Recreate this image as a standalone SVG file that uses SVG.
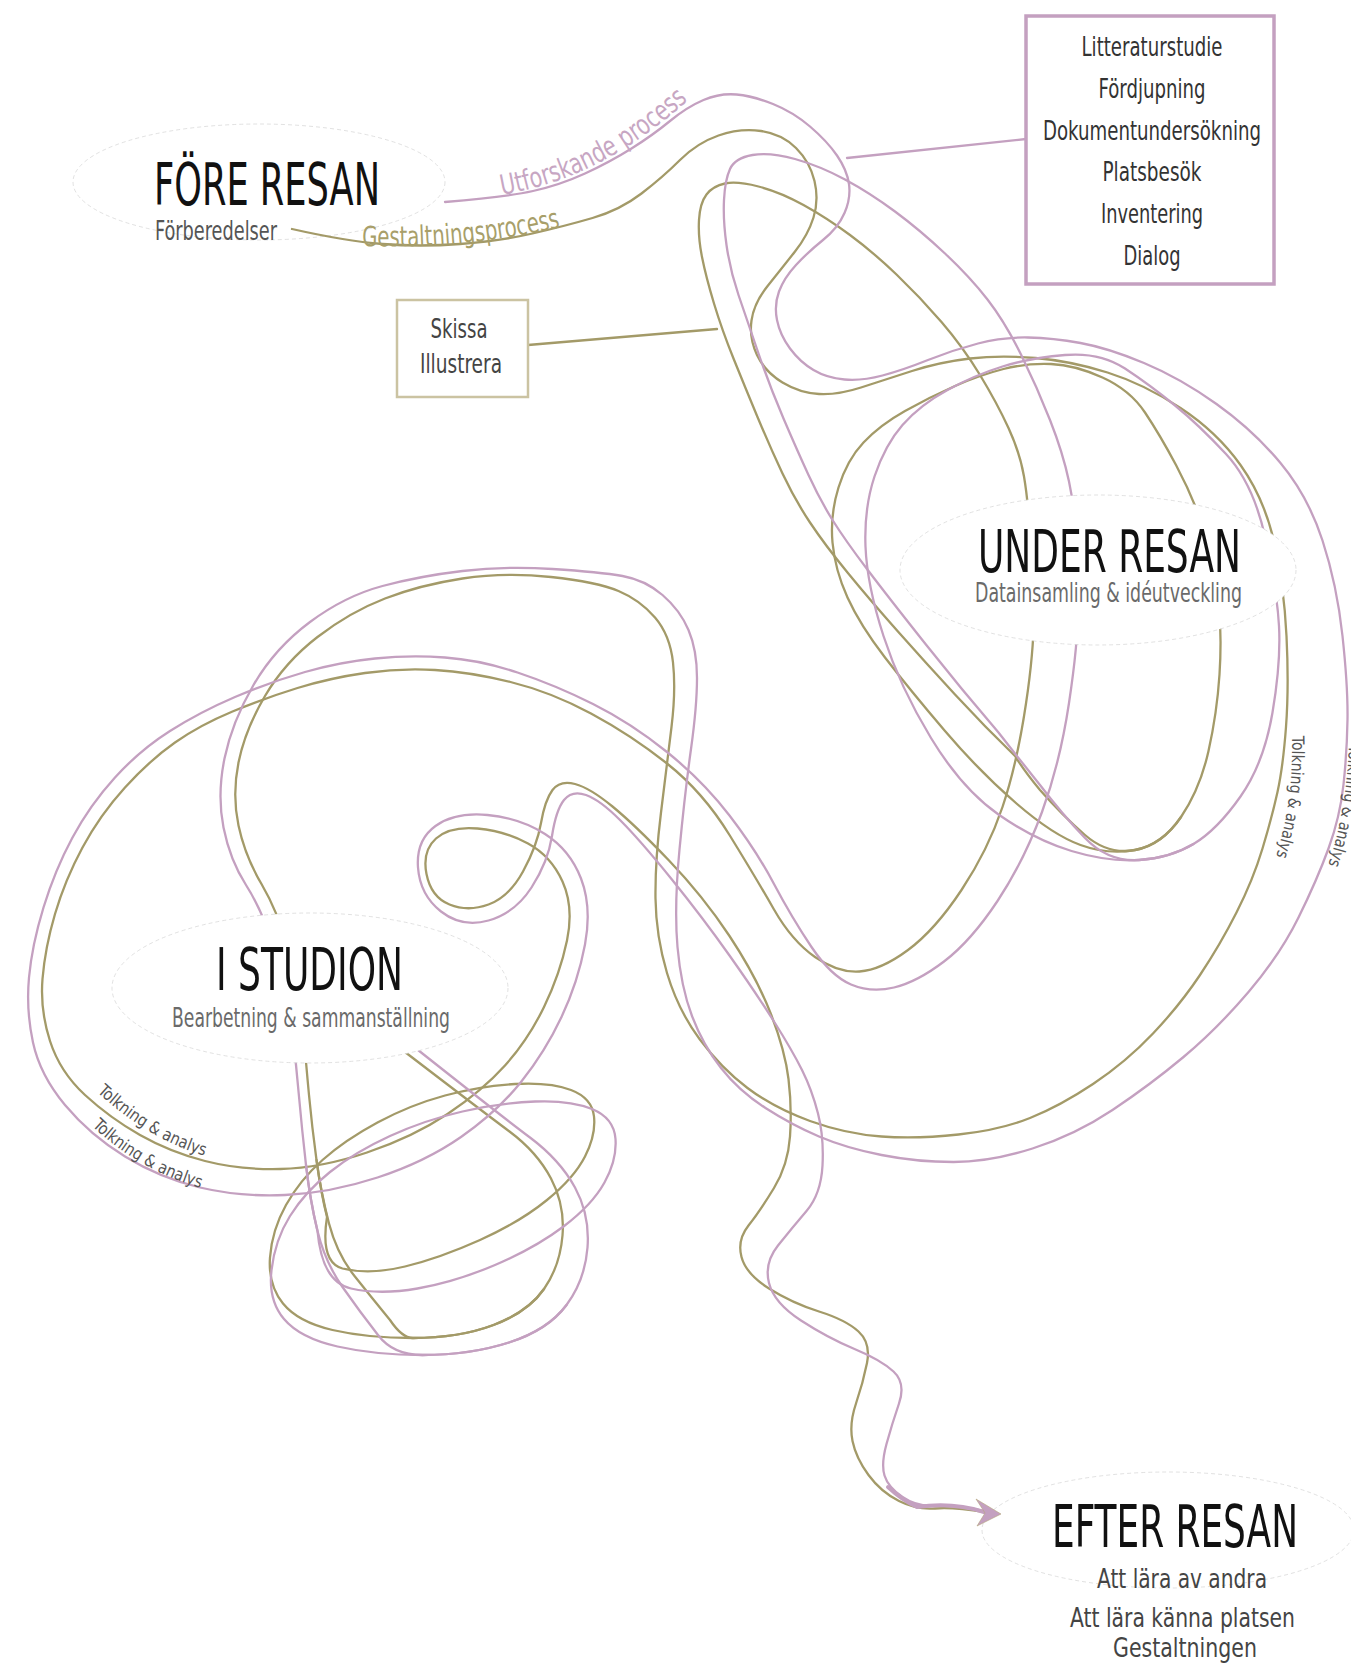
<svg xmlns="http://www.w3.org/2000/svg" width="1351" height="1671" viewBox="0 0 1351 1671">
<style>
.ol{fill:none;stroke:#a39a68;stroke-width:2.3;stroke-linecap:round;stroke-linejoin:round}
.mv{fill:none;stroke:#c4a0c0;stroke-width:2.3;stroke-linecap:round;stroke-linejoin:round}
.oval{fill:#fff;stroke:#d4d4d4;stroke-width:0.7;stroke-dasharray:4 3}
.t{font-family:"Liberation Sans Narrow","DejaVu Sans Condensed","Liberation Sans",sans-serif}
.title{font-size:58px;fill:#111}
.sub{font-size:27px;fill:#6a6a6a}
.box{font-size:27px;fill:#333}
.lab{font-size:17px;fill:#555}
.proc{font-size:28px}
</style>
<defs>
<path id="pUtf" d="M502,195 C575,182 630,152 692,97"/>
<path id="pGes" d="M362,246 C430,248 500,242 565,226"/>
<path id="pTR1" d="M1292,736 C1293,785 1287,822 1275,860"/>
<path id="pTR2" d="M1349,745 C1347,790 1340,830 1328,866"/>
<path id="pTL1" d="M97,1092 C132,1124 172,1150 228,1162"/>
<path id="pTL2" d="M92,1126 C125,1157 165,1180 222,1194"/>
</defs>
<rect width="1351" height="1671" fill="#fff"/>

<g id="node-fore-resan">
<ellipse class="oval" cx="259" cy="182" rx="186" ry="58" style="fill:none"/>
<text class="t title" x="154" y="205" textLength="226" lengthAdjust="spacingAndGlyphs">FÖRE RESAN</text>
<text class="t sub" x="155" y="240" textLength="122" lengthAdjust="spacingAndGlyphs" style="fill:#555">Förberedelser</text>
</g>

<g id="connectors">
<path class="mv" d="M1026,139 L847,158"/>
<path class="ol" d="M528,345 L717,329"/>
<!-- olive main strand -->
<path class="ol" d="M292,229 Q345,241 382.5,244 Q420,247 460,244 Q500,241 532.5,233.5 Q565,226 592.5,218 Q620,210 641.5,193.5 Q663,177 680,160 Q697,143 718.5,135.5 Q740,128 761,131 Q782,134 796,148 Q810,162 814.5,181 Q819,200 813.5,217.5 Q808,235 795,251.5 Q782,268 768,285.5 Q754,303 751.5,320.5 Q749,338 757,355 Q765,372 782.5,382.5 Q800,393 819,394 Q838,395 861,387.5 Q884,380 912,371 Q940,362 970,358.5 Q1000,355 1035.5,358 Q1071,361 1107.5,372.5 Q1144,384 1180.5,408 Q1217,432 1240.5,465 Q1264,498 1274,541.5 Q1284,585 1286.5,636 Q1289,687 1286,727 Q1283,767 1277.5,792 Q1272,817 1262.5,848.5 Q1253,880 1236.5,912.5 Q1220,945 1200,975 Q1180,1005 1153,1033.5 Q1126,1062 1093,1084 Q1060,1106 1030,1118 Q1000,1130 958.5,1134.5 Q917,1139 881.5,1136.5 Q846,1134 810,1121 Q774,1108 747.5,1088 Q721,1068 699.5,1039 Q678,1010 667,973 Q656,936 655.5,898.5 Q655,861 661,812.5 Q667,764 671.5,727 Q676,690 673,662.5 Q670,635 655,617.5 Q640,600 618.5,591 Q597,582 551,577 Q505,572 462.5,578.5 Q420,585 385,598.5 Q350,612 317.5,637 Q285,662 265,696 Q245,730 238.5,762.5 Q232,795 238.5,825.5 Q245,856 261.5,884 Q278,912 289,951 Q300,990 303,1026.5 Q306,1063 309,1095 Q312,1127 316.5,1160 Q321,1193 329,1223.5 Q337,1254 354.5,1276 Q372,1298 390,1320 Q402,1338 413,1338 Q459,1338 493.5,1325 Q528,1312 544,1289"/>
<!-- olive inner loop / outer left loop / tail -->
<path class="ol" d="M1181,817 Q1162,845 1135,850 Q1108,855 1085,835 Q1062,815 1040,790 Q1025,772 1015,756 Q985,727 955,694.5 Q925,662 897.5,631 Q870,600 847.5,572.5 Q825,545 810,522.5 Q795,500 782.5,473.5 Q770,447 757.5,417 Q745,387 733.5,358.5 Q722,330 714,303.5 Q706,277 702,257 Q698,237 699,220 Q700,203 706.5,194.5 Q713,186 725,183.5 Q737,181 758.5,186.5 Q780,192 803.5,205 Q827,218 850,235 Q873,252 896.5,274.5 Q920,297 941.5,322 Q963,347 980,375 Q997,403 1008.5,428 Q1020,453 1024,476.5 Q1028,500 1030,535 Q1032,570 1033.5,606.5 Q1035,643 1026,703.5 Q1017,764 1002.5,807 Q988,850 961.5,890 Q935,930 908,950 Q881,970 859.5,971.5 Q838,973 815,957 Q792,941 774,909.5 Q756,878 729.5,835 Q703,792 667,763.5 Q631,735 591,713.5 Q551,692 510.5,682 Q470,672 435,670 Q400,668 365,673 Q330,678 297.5,688 Q265,698 232.5,711.5 Q200,725 175,742.5 Q150,760 125,787.5 Q100,815 82.5,847.5 Q65,880 55,914 Q45,948 42.5,979 Q40,1010 50,1041 Q60,1072 85,1095 Q110,1118 140,1135 Q170,1152 205,1161 Q240,1170 280.5,1169 Q321,1168 367,1152.5 Q413,1137 447.5,1114 Q482,1091 505,1065.5 Q528,1040 544,1007 Q560,974 567,940.5 Q574,907 562.5,881.5 Q551,856 528,843.5 Q505,831 477.5,828.5 Q450,826 436,838.5 Q422,851 426.5,874 Q431,897 449.5,904.5 Q468,912 488.5,904.5 Q509,897 523,871.5 Q537,846 541,823 Q545,800 552.5,790 Q560,780 575,784 Q590,788 612.5,806.5 Q635,825 669,860.5 Q703,896 729.5,936 Q756,976 770.5,1013 Q785,1050 788.5,1079 Q792,1108 790,1136.5 Q788,1165 774,1188 Q760,1211 748.5,1225.5 Q737,1240 741.5,1257 Q746,1274 769,1288.5 Q792,1303 819,1311.5 Q846,1320 858.5,1331.5 Q871,1343 867,1363 Q863,1383 856,1403.5 Q849,1424 852.5,1441 Q856,1458 868.5,1475 Q881,1492 899,1501 Q917,1510 935,1508.5 Q953,1507 985,1512"/>
<!-- olive ring around UNDER RESAN -->
<path class="ol" d="M1145,412.5 Q1130,390 1102.5,377.5 Q1075,365 1051,364 Q1027,363 1003.5,369 Q980,375 955,386 Q930,397 905,411 Q880,425 863.5,442.5 Q847,460 838.5,487.5 Q830,515 832.5,542.5 Q835,570 847.5,597.5 Q860,625 885,657.5 Q910,690 945,731 Q980,772 1016.5,803.5 Q1053,835 1080.5,845 Q1108,855 1135,850 Q1162,845 1181,817 Q1200,789 1208.5,751 Q1217,713 1219.5,674.5 Q1222,636 1218.5,598 Q1215,560 1203.5,527.5 Q1192,495 1176,465 Q1160,435 1145,412.5 Z"/>
<!-- olive bottom loops -->
<path class="ol" d="M405,1052 Q482,1111 509.5,1131.5 Q537,1152 551,1178.5 Q565,1205 562.5,1235.5 Q560,1266 544,1289 Q528,1312 493.5,1325 Q459,1338 413,1338 Q367,1338 332.5,1330 Q298,1322 283,1303.5 Q268,1285 270,1257.5 Q272,1230 286,1205 Q300,1180 322.5,1160 Q345,1140 377.5,1122.5 Q410,1105 445,1095.5 Q480,1086 515,1084 Q550,1082 571,1090 Q592,1098 594,1116.5 Q596,1135 585,1156.5 Q574,1178 547,1200 Q520,1222 480,1240 Q440,1258 405,1266.5 Q370,1275 342.5,1268.5 Q320,1262 327,1217 Q321,1193 316.5,1160"/>
<!-- mauve main strand -->
<path class="mv" d="M445,202 Q506,197 533,191 Q560,185 585,173.5 Q610,162 631.5,148.5 Q653,135 670,121 Q687,107 703.5,100 Q720,93 736.5,94.5 Q753,96 773,104 Q793,112 810,126.5 Q827,141 837,155.5 Q847,170 849,184 Q851,198 844.5,213 Q838,228 823,240 Q808,252 796,265 Q784,278 779,291.5 Q774,305 777,320 Q780,335 790,348.5 Q800,362 813.5,370 Q827,378 844.5,379.5 Q862,381 882.5,375.5 Q903,370 928,360 Q953,350 978,343.5 Q1003,337 1028,337.5 Q1053,338 1080.5,343 Q1108,348 1144,363 Q1180,378 1216.5,404 Q1253,430 1280.5,463 Q1308,496 1322.5,540.5 Q1337,585 1342.5,636 Q1348,687 1347.5,719.5 Q1347,752 1343.5,784.5 Q1340,817 1328.5,848.5 Q1317,880 1298.5,917.5 Q1280,955 1248.5,992 Q1217,1029 1183.5,1057 Q1150,1085 1112.5,1110 Q1075,1135 1032.5,1148.5 Q990,1162 953.5,1162 Q917,1162 881.5,1155 Q846,1148 819,1136.5 Q792,1125 765.5,1108 Q739,1091 721,1068 Q703,1045 692,1016 Q681,987 677.5,947 Q674,907 679.5,849.5 Q685,792 691,749 Q697,706 697,678 Q697,650 688.5,630 Q680,610 662.5,595 Q645,580 622.5,576 Q600,572 552.5,569 Q505,566 462.5,571 Q420,576 382.5,586 Q345,596 310,622 Q275,648 253.5,685 Q232,722 224.5,758.5 Q217,795 223.5,827.5 Q230,860 246,885 Q262,910 275,950 Q288,990 292,1026.5 Q296,1063 299,1096.5 Q302,1130 306,1165 Q310,1200 317.5,1231 Q325,1262 342.5,1287 Q360,1312 378,1335 Q393,1355 422.5,1355 Q470,1355 509,1342.5 Q548,1330 566.5,1305"/>
<!-- mauve inner loop / outer left loop / tail -->
<path class="mv" d="M1193.5,844 Q1170,858 1139,860 Q1108,862 1085,838 Q1062,814 1040,785 Q1020,760 998.5,732.5 Q962,690 925.5,644 Q889,598 867,569 Q845,540 832.5,520 Q820,500 808.5,475 Q797,450 783.5,418.5 Q770,387 758.5,353.5 Q747,320 738.5,295 Q730,270 726.5,245 Q723,220 724,200 Q725,180 730,169 Q735,158 752.5,155 Q770,152 795,159 Q820,166 845,179.5 Q870,193 895,211.5 Q920,230 945,253.5 Q970,277 987.5,299.5 Q1005,322 1021,354.5 Q1037,387 1050,420 Q1063,453 1069,481.5 Q1075,510 1076.5,542.5 Q1078,575 1078,609 Q1078,643 1069,703 Q1060,763 1042,812 Q1024,861 997.5,901 Q971,941 944,961.5 Q917,982 894,987.5 Q871,993 851,984.5 Q831,976 811.5,947 Q792,918 774,884 Q756,850 729.5,815.5 Q703,781 667,752 Q631,723 593,704 Q555,685 517.5,672.5 Q480,660 445,657.5 Q410,655 375,658.5 Q340,662 305,672 Q270,682 235,697 Q200,712 170,731 Q140,750 115,777.5 Q90,805 72.5,837.5 Q55,870 43.5,907.5 Q32,945 29,977.5 Q26,1010 33,1042.5 Q40,1075 65,1105 Q90,1135 125,1156.5 Q160,1178 200,1187.5 Q240,1197 285,1195 Q330,1193 377.5,1177.5 Q425,1162 461,1137 Q497,1112 521,1082 Q545,1052 561.5,1017 Q578,982 585,944.5 Q592,907 581,878.5 Q570,850 545,834 Q520,818 487.5,815 Q455,812 435.5,826 Q416,840 418,867.5 Q420,895 441,911.5 Q462,928 488.5,920.5 Q515,913 531.5,887.5 Q548,862 552,836 Q556,810 564,800 Q572,790 586,795 Q600,800 620,820 Q640,840 671.5,879 Q703,918 729.5,955.5 Q756,993 774,1021.5 Q792,1050 802,1070 Q812,1090 818,1113.5 Q824,1137 822.5,1165.5 Q821,1194 806.5,1211 Q792,1228 778,1245.5 Q764,1263 769,1283 Q774,1303 801,1320.5 Q828,1338 854.5,1349 Q881,1360 893.5,1371.5 Q906,1383 899,1403.5 Q892,1424 886.5,1444 Q881,1464 884.5,1475.5 Q888,1487 902.5,1497 Q917,1507 935,1505.5 Q953,1504 988,1512"/>
<!-- mauve ring around UNDER RESAN -->
<path class="mv" d="M1174.5,405 Q1150,385 1125,368.5 Q1100,352 1065,355 Q1030,358 1002.5,366.5 Q975,375 947.5,390 Q920,405 902.5,425 Q885,445 874.5,476.5 Q864,508 865.5,546.5 Q867,585 883.5,636 Q900,687 931,738 Q962,789 998.5,814.5 Q1035,840 1071.5,851 Q1108,862 1139,860 Q1170,858 1193.5,844 Q1217,830 1240.5,796.5 Q1264,763 1272.5,712.5 Q1281,662 1279,626 Q1277,590 1265,536.5 Q1253,483 1226,454 Q1199,425 1174.5,405 Z"/>
<!-- mauve bottom loops -->
<path class="mv" d="M418,1050 Q500,1115 530,1137.5 Q560,1160 575,1187.5 Q590,1215 587.5,1247.5 Q585,1280 566.5,1305 Q548,1330 509,1342.5 Q470,1355 422.5,1355 Q375,1355 337.5,1346.5 Q300,1338 284,1319 Q268,1300 271.5,1270 Q275,1240 290,1216 Q305,1192 330,1172 Q355,1152 390,1136 Q425,1120 462.5,1111.5 Q500,1103 535,1101.5 Q570,1100 592,1109 Q614,1118 615.5,1139 Q617,1160 604.5,1182.5 Q592,1205 563.5,1226.5 Q535,1248 495,1265 Q455,1282 417.5,1288.5 Q380,1295 351,1288.5 Q322,1282 317.5,1231 Q310,1200 306,1165"/>
<!-- thick tail end and arrowhead -->
<path class="mv" style="stroke-width:4" d="M888,1487 Q902,1500 917,1507 Q953,1502 984,1512"/>
<!-- process labels -->
<text class="t proc" fill="#c7a6c3"><textPath href="#pUtf" textLength="212" lengthAdjust="spacingAndGlyphs">Utforskande process</textPath></text>
<text class="t proc" fill="#a89f6a"><textPath href="#pGes" textLength="200" lengthAdjust="spacingAndGlyphs">Gestaltningsprocess</textPath></text>
<text class="t lab"><textPath href="#pTR1" textLength="122" lengthAdjust="spacingAndGlyphs">Tolkning &amp; analys</textPath></text>
<text class="t lab"><textPath href="#pTR2" textLength="122" lengthAdjust="spacingAndGlyphs">Tolkning &amp; analys</textPath></text>
<text class="t lab"><textPath href="#pTL1" textLength="126" lengthAdjust="spacingAndGlyphs">Tolkning &amp; analys</textPath></text>
<text class="t lab"><textPath href="#pTL2" textLength="126" lengthAdjust="spacingAndGlyphs">Tolkning &amp; analys</textPath></text>
</g>

<g id="node-litteratur">
<rect x="1026" y="16" width="248" height="268" fill="none" stroke="#c4a0c0" stroke-width="3.5"/>
<text class="t box" x="1152" y="56" text-anchor="middle" textLength="141" lengthAdjust="spacingAndGlyphs">Litteraturstudie</text>
<text class="t box" x="1152" y="98" text-anchor="middle" textLength="107" lengthAdjust="spacingAndGlyphs">Fördjupning</text>
<text class="t box" x="1152" y="140" text-anchor="middle" textLength="218" lengthAdjust="spacingAndGlyphs">Dokumentundersökning</text>
<text class="t box" x="1152" y="181" text-anchor="middle" textLength="99" lengthAdjust="spacingAndGlyphs">Platsbesök</text>
<text class="t box" x="1152" y="223" text-anchor="middle" textLength="102" lengthAdjust="spacingAndGlyphs">Inventering</text>
<text class="t box" x="1152" y="265" text-anchor="middle" textLength="57" lengthAdjust="spacingAndGlyphs">Dialog</text>
</g>

<g id="node-skissa">
<rect x="397" y="300" width="131" height="97" fill="#fff" stroke="#cbc3a2" stroke-width="2.5"/>
<text class="t box" x="459" y="338" text-anchor="middle" textLength="57" lengthAdjust="spacingAndGlyphs" style="fill:#444">Skissa</text>
<text class="t box" x="461" y="373" text-anchor="middle" textLength="82" lengthAdjust="spacingAndGlyphs" style="fill:#444">Illustrera</text>
</g>

<g id="node-under-resan">
<ellipse class="oval" cx="1098" cy="570" rx="198" ry="75"/>
<text class="t title" x="978" y="572" textLength="263" lengthAdjust="spacingAndGlyphs">UNDER RESAN</text>
<text class="t sub" x="975" y="602" textLength="267" lengthAdjust="spacingAndGlyphs">Datainsamling &amp; idéutveckling</text>
</g>

<g id="node-i-studion">
<ellipse class="oval" cx="310" cy="988" rx="198" ry="75"/>
<text class="t title" x="216" y="990" textLength="187" lengthAdjust="spacingAndGlyphs">I STUDION</text>
<text class="t sub" x="172" y="1027" textLength="278" lengthAdjust="spacingAndGlyphs">Bearbetning &amp; sammanställning</text>
</g>

<g id="node-efter-resan">
<ellipse class="oval" cx="1168" cy="1530" rx="186" ry="58"/>
<path d="M976,1499 L1001,1514 L977,1526 L985,1513 Z" fill="#c4a0c0" stroke="#b3a57a" stroke-width="0.6"/>
<text class="t title" x="1052" y="1547" textLength="246" lengthAdjust="spacingAndGlyphs">EFTER RESAN</text>
<text class="t sub" x="1097" y="1588" textLength="170" lengthAdjust="spacingAndGlyphs" style="fill:#444">Att lära av andra</text>
<text class="t sub" x="1070" y="1627" textLength="225" lengthAdjust="spacingAndGlyphs" style="fill:#444">Att lära känna platsen</text>
<text class="t sub" x="1113" y="1657" textLength="144" lengthAdjust="spacingAndGlyphs" style="fill:#444">Gestaltningen</text>
</g>
</svg>
